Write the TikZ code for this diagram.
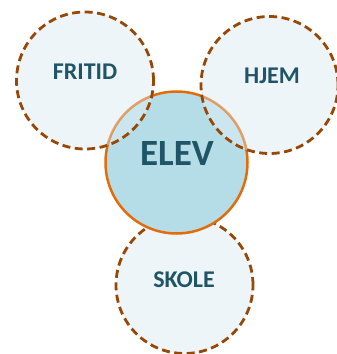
\documentclass[tikz,border=0pt]{standalone}
\usepackage{fontspec}
\setmainfont{Carlito}
\definecolor{ringbrown}{HTML}{984806}
\definecolor{paleblue}{HTML}{EDF5F9}
\definecolor{corefill}{HTML}{B5DDE8}
\definecolor{coreedge}{HTML}{E36C0A}
\definecolor{labelteal}{HTML}{1F5566}
\tikzset{
  ringfill/.style={circle, fill=paleblue, minimum size=137pt, inner sep=0pt},
  ringedge/.style={circle, draw=ringbrown, line width=2.8pt, dash pattern=on 8pt off 4.5pt,
    minimum size=137pt, inner sep=0pt},
  core/.style={circle, draw=coreedge, line width=2.5pt, fill=corefill,
    minimum size=142pt, inner sep=0pt},
  lbl/.style={text=labelteal, font=\bfseries\fontsize{24}{26}\selectfont, inner sep=0pt},
  biglbl/.style={text=labelteal, font=\bfseries\fontsize{37}{40}\selectfont, inner sep=0pt}
}
\begin{document}
\begin{tikzpicture}[x=1pt, y=-1pt]
  \useasboundingbox (0,0) rectangle (337,354);
  % bottom ring lies under the centre circle
  \node[ringfill] (skolefill) at (184.5,285) {};
  \node[ringedge] (skole) at (184.5,285) {};
  \node[core] (elev) at (176.5,162.5) {};
  % upper rings are laid over it; the centre circle shows through them
  \node[ringfill] (fritidfill) at (85,80.5) {};
  \node[ringfill] (hjemfill) at (269.5,85) {};
  \begin{scope}
    \clip (85,80.5) circle (68.5pt);
    \node[core, opacity=0.6] at (176.5,162.5) {};
  \end{scope}
  \begin{scope}
    \clip (269.5,85) circle (68.5pt);
    \node[core, opacity=0.6] at (176.5,162.5) {};
  \end{scope}
  \node[ringedge] (fritid) at (85,80.5) {};
  \node[ringedge] (hjem) at (269.5,85) {};
  % labels
  \node[lbl] at (85,72) {FRITID};
  \node[lbl] at (272,76) {HJEM};
  \node[biglbl] at (177,153) {ELEV};
  \node[lbl] at (184,280) {SKOLE};
\end{tikzpicture}
\end{document}
